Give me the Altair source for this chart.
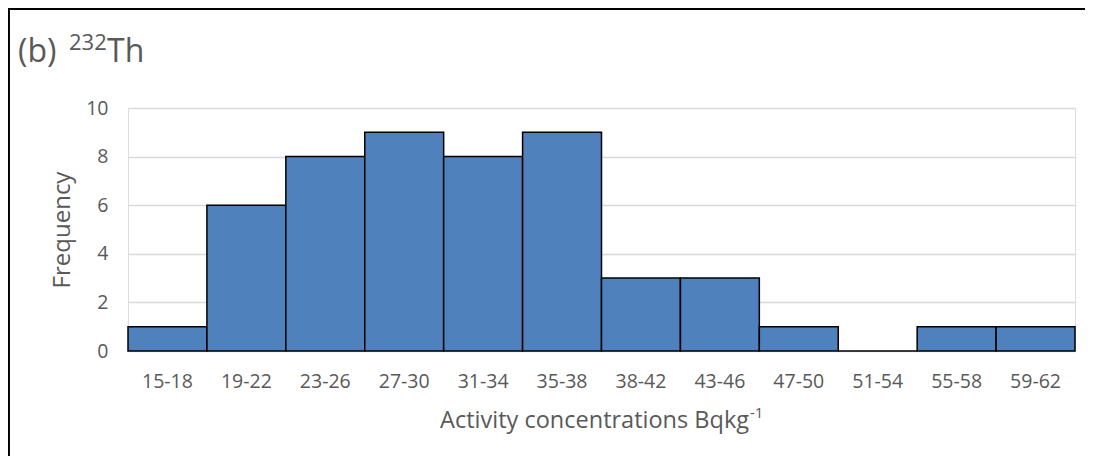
import altair as alt
import pandas as pd

bins = ["15-18", "19-22", "23-26", "27-30", "31-34", "35-38",
        "38-42", "43-46", "47-50", "51-54", "55-58", "59-62"]
freq = [1, 6, 8, 9, 8, 9, 3, 3, 1, 0, 1, 1]
y_ticks = [0, 2, 4, 6, 8, 10]

FONT = "Open Sans"
GRAY = "#595959"

df = pd.DataFrame({"bin": bins, "freq": freq})

bars = alt.Chart(df).mark_bar(
    fill="#4f81bd", stroke="black", strokeWidth=1.5
).encode(
    x=alt.X("bin:N", sort=bins,
            scale=alt.Scale(paddingInner=0, paddingOuter=0),
            axis=alt.Axis(title=None, labelAngle=0, labelFont=FONT, labelFontSize=19.5,
                          labelColor=GRAY, labelPadding=21, ticks=False, domain=False)),
    y=alt.Y("freq:Q", scale=alt.Scale(domain=[0, 10], nice=False),
            axis=alt.Axis(title="Frequency", values=y_ticks, labelFont=FONT,
                          labelFontSize=19.5, labelColor=GRAY, labelPadding=20,
                          ticks=False, domain=False, gridColor="#d9d9d9",
                          gridWidth=1.5, titleFont=FONT, titleFontSize=24,
                          titleFontWeight="normal", titleColor=GRAY, titlePadding=11)),
)

one = alt.Data(values=[{"k": 1}])

frame_left = alt.Chart(one).mark_rule(color="black", strokeWidth=2.5).encode(
    x=alt.value(-119.3), y=alt.value(-100.5), y2=alt.value(460)
)
frame_top = alt.Chart(one).mark_rule(color="black", strokeWidth=2.5).encode(
    y=alt.value(-99.3), x=alt.value(-120.5), x2=alt.value(957)
)

def txt(text, x, y, size, align="left"):
    return alt.Chart(one).mark_text(
        text=text, font=FONT, fontSize=size, color=GRAY, align=align,
        baseline="alphabetic"
    ).encode(x=alt.value(x), y=alt.value(y))

title_b = txt("(b)", -110, -46, 32)
title_sup = txt("232", -59, -58, 22)
title_th = txt("Th", -21, -46, 32)

xt_main = txt("Activity concentrations Bqkg", 621, 320, 23.5, align="right")
xt_sup = txt("-1", 622, 310, 15)

chart = alt.layer(
    bars, frame_left, frame_top, title_b, title_sup, title_th, xt_main, xt_sup
).properties(
    width=947, height=243,
    padding={"left": 120, "top": 100, "right": 12, "bottom": 105},
    autosize=alt.AutoSizeParams(type="none"),
).configure_view(stroke="black", strokeWidth=1.5).configure(background="white")

chart.save("out.html", embed_options={"renderer": "svg", "actions": False})
